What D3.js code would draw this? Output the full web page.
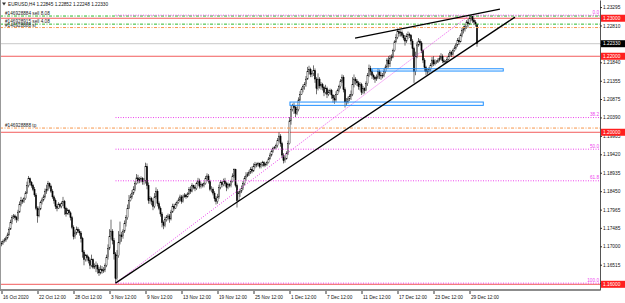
<!DOCTYPE html>
<html>
<head>
<meta charset="UTF-8">
<title>EURUSD,H4</title>
<script src="https://cdn.jsdelivr.net/npm/d3@7"></script>
<style>
  html, body { margin: 0; padding: 0; background: #fff; }
  svg { display: block; font-family: "Liberation Sans", Arial, sans-serif; }
</style>
</head>
<body>
<svg id="chart" width="625" height="303"></svg>
<script>
// --- data: H4 bars, prices stored as pips above 1.1500 ---
const base = 1.15;
const firstOpen = 205;
const closes = [
  207,212,217,
  222,230,245,262,275,280, 275,270,290,310,320,318, 325,340,360,378,368,360, 350,335,300,280,298,315, 322,330,345,350,365,358,
  345,330,320,305,300,310, 305,312,318,300,285,295, 288,275,250,225,235,245, 240,235,220,185,165,175, 170,162,150,165,145,147,
  150,140,130,140,135,138, 150,170,195,225,240,215, 180,115,175,210,230,225, 240,260,275,300,320,330, 340,350,365,380,372,375,
  378,370,372,410,360,320, 325,318,305,330,345,312, 300,285,262,255,270,275, 280,272,290,305,300,310, 315,322,330,318,330,335,
  330,338,350,345,360,355, 352,365,372,358,362,360, 365,378,385,370,350,350, 340,325,318,330,355,368, 362,372,365,355,362,360,
  370,385,402,360,320,340, 345,352,365,378,385,390, 395,402,398,410,415,415, 418,410,415,420,412,415, 420,430,440,450,458,460,
  465,478,490,470,440,425, 430,445,470,530,560,570, 565,550,560,585,600,612, 620,625,640,660,665,652, 655,662,640,615,640,622,
  625,618,605,615,600,605, 610,598,590,585,600,610, 620,635,645,612,580,580, 588,595,600,625,640,635, 630,620,625,605,615,610,
  628,650,668,660,650,645, 640,645,660,650,648,650, 660,672,690,680,695,698, 715,738,750,765,760,762, 755,748,740,752,758,755,
  740,720,660,700,730,740, 735,715,690,670,660,660, 665,675,690,680,685,685, 690,695,700,688,685,685, 692,700,710,705,715,722,
  730,742,738,755,768,772, 778,790,785,800,805,795, 790,785,733
];
const highs = [
  214,218,222,
  226,236,250,270,282,285, 284,280,296,318,330,325, 330,345,370,385,381,372, 364,356,340,305,305,320, 328,336,352,362,372,368,
  362,350,334,326,312,316, 314,318,330,322,304,300, 298,292,280,255,242,252, 250,245,240,225,190,180, 180,175,168,178,168,155,
  160,155,146,150,148,145, 155,178,205,245,270,245, 222,185,190,240,265,238, 245,268,282,310,335,338, 348,358,372,390,388,382,
  384,382,380,420,418,368, 332,330,322,340,355,350, 318,305,290,268,278,282, 286,285,296,312,312,315, 320,328,336,335,336,340,
  338,342,356,358,366,362, 360,370,380,378,368,366, 370,385,392,390,375,358, 355,345,332,338,362,374, 372,378,380,370,368,366,
  375,392,405,404,365,345, 350,360,372,385,395,395, 400,408,410,418,422,420, 422,420,422,425,424,420, 425,435,446,455,462,464,
  470,485,500,495,475,445, 436,450,478,540,572,575, 578,570,568,592,608,618, 626,632,648,672,675,670, 662,676,668,645,655,645,
  632,630,622,625,620,612, 615,614,600,598,608,615, 625,640,652,650,618,590, 594,600,610,645,652,645, 640,635,632,630,622,618,
  634,656,678,675,665,654, 648,652,668,665,658,656, 668,678,695,700,703,705, 720,742,758,773,772,768, 768,760,756,760,765,762,
  758,745,725,712,738,748, 745,740,718,695,675,668, 672,682,698,700,692,690, 695,702,708,705,692,690, 698,708,716,714,720,728,
  735,748,750,760,775,780, 785,795,798,808,808,806, 800,795,785
];
const lows = [
  200,204,210,
  212,218,228,243,258,272, 268,262,266,288,305,312, 314,322,338,355,360,354, 345,330,295,262,276,295, 310,318,326,338,346,352,
  340,325,312,298,292,298, 300,300,306,283,278,284, 282,268,245,218,220,230, 235,228,210,170,150,160, 160,155,140,145,140,140,
  132,128,122,126,128,130, 132,145,165,190,218,205, 165,103,110,170,205,212, 220,235,252,270,298,318, 325,335,345,362,365,366,
  368,362,362,365,350,312, 312,308,295,300,325,305, 295,278,250,245,250,265, 268,262,268,288,294,298, 305,312,318,312,315,328,
  325,328,335,338,342,350, 345,348,360,352,352,355, 355,362,372,365,345,342, 334,318,310,312,325,350, 355,358,358,345,350,355,
  355,368,380,355,302,318, 330,340,348,360,372,382, 385,390,392,396,405,408, 410,405,405,410,408,410, 412,418,428,436,446,455,
  455,460,475,462,432,418, 420,428,440,468,520,555, 548,540,545,555,582,598, 605,612,620,638,652,645, 645,648,630,600,610,615,
  612,610,595,600,590,595, 600,588,578,575,580,598, 605,615,630,605,565,570, 575,582,585,595,618,625, 622,612,610,598,600,602,
  608,622,645,650,640,638, 630,635,640,640,638,642, 645,655,668,670,672,688, 695,712,735,745,752,752, 750,742,728,735,745,748,
  730,700,630,650,695,725, 728,708,682,660,650,652, 655,660,672,674,676,680, 682,686,690,682,680,682, 684,690,700,698,702,712,
  718,725,730,736,750,760, 765,772,775,782,792,788, 782,778,725
];

const dateTicks = [0, 24, 48, 72, 96, 120, 144, 168, 192, 216, 240, 264, 288, 312];
const dateLabels = ["16 Oct 2020", "22 Oct 12:00", "28 Oct 12:00", "3 Nov 12:00", "9 Nov 12:00", "13 Nov 12:00",
  "19 Nov 12:00", "25 Nov 12:00", "1 Dec 12:00", "7 Dec 12:00", "11 Dec 12:00", "17 Dec 12:00", "23 Dec 12:00", "29 Dec 12:00"];

const priceTicks = [1.23295, 1.22810, 1.22325, 1.21840, 1.21355, 1.20875, 1.20390, 1.19905, 1.19420,
  1.18935, 1.18450, 1.17965, 1.17485, 1.17000, 1.16515, 1.16030];

const redLevels = [1.23000, 1.22000, 1.20000, 1.16000];
const bidPrice = 1.22330;
const title = "EURUSD,H4  1.22845 1.22852 1.22248 1.22330";

const orderLabels = ["#146928884 sell 8.08", "#146928915 sell 4.08", "#146928888 sl", "#146928888 tp"];
const orderPrices = [1.23058, 1.22845, 1.22755, 1.20111];
const orderKinds = ["open", "open", "stop", "stop"];

const fibLevels = [0, 38.2, 50, 61.8, 100];
const fibLabels = ["0.0", "38.2", "50.0", "61.8", "100.0"];
const fibFrom = [76, 1.16030];   // [bar, price] of the low
const fibTo = [312, 1.23080];    // [bar, price] of the high

const trendLines = [
  [[76, 1.16030], [342.3, 1.23030]],
  [[235.7, 1.22479], [332.3, 1.23242]]
];
const boxBars = [[247, 334.5], [192.3, 321.2]];
const boxPrices = [[1.21671, 1.21611], [1.20795, 1.20708]];

// --- scales ---
const W = 625, H = 303;
const plotRight = 600, plotBottom = 290;
const x = d3.scaleLinear().domain([0, 399]).range([1.5, plotRight]);
const y = d3.scaleLinear().domain([1.1585, 1.2348]).range([plotBottom, 0]);
const px = v => base + v / 10000;

const svg = d3.select("#chart");
const plot = svg.append("g");

const bars = closes.map((c, i) => ({
  i,
  o: px(i ? closes[i - 1] : firstOpen),
  h: px(highs[i]),
  l: px(lows[i]),
  c: px(c)
}));

// horizontal levels (behind candles)
plot.selectAll(".red").data(redLevels).join("line")
  .attr("x1", 0).attr("x2", plotRight)
  .attr("y1", d => y(d)).attr("y2", d => y(d))
  .attr("stroke", "#f25c5c").attr("stroke-width", 1);

plot.append("line")
  .attr("x1", 0).attr("x2", plotRight)
  .attr("y1", y(bidPrice)).attr("y2", y(bidPrice))
  .attr("stroke", "#c8c8c8").attr("stroke-width", 1);

// candles
plot.selectAll(".wick").data(bars).join("line")
  .attr("x1", d => x(d.i)).attr("x2", d => x(d.i))
  .attr("y1", d => y(d.h)).attr("y2", d => y(d.l))
  .attr("stroke", "#111").attr("stroke-width", 0.6);

plot.selectAll(".body").data(bars).join("rect")
  .attr("x", d => x(d.i) - 0.6).attr("width", 1.2)
  .attr("y", d => y(Math.max(d.o, d.c)))
  .attr("height", d => Math.max(0.5, Math.abs(y(d.o) - y(d.c))))
  .attr("fill", d => d.c >= d.o ? "#fff" : "#000")
  .attr("stroke", "#000").attr("stroke-width", 0.4);

// order lines
plot.selectAll(".order").data(orderPrices).join("line")
  .attr("x1", 0).attr("x2", plotRight)
  .attr("y1", d => y(d)).attr("y2", d => y(d))
  .attr("stroke", (d, k) => orderKinds[k] === "open" ? "#2eb82e" : "#f7964a")
  .attr("stroke-width", 1)
  .attr("stroke-dasharray", "3,1.5,1,1.5");

plot.selectAll(".orderText").data(orderLabels).join("text")
  .attr("x", 5).attr("y", (d, k) => y(orderPrices[k]) - 1)
  .attr("font-size", 4.7).attr("fill", "#222")
  .text(d => d);

// fibonacci
const fibPrice = lv => fibTo[1] - (fibTo[1] - fibFrom[1]) * lv / 100;
plot.append("line")
  .attr("x1", x(fibFrom[0])).attr("y1", y(fibFrom[1]))
  .attr("x2", x(fibTo[0])).attr("y2", y(fibTo[1]))
  .attr("stroke", "#ee44ee").attr("stroke-width", 1).attr("stroke-dasharray", "1,1.5");
plot.selectAll(".fib").data(fibLevels).join("line")
  .attr("x1", x(fibFrom[0])).attr("x2", plotRight)
  .attr("y1", d => y(fibPrice(d))).attr("y2", d => y(fibPrice(d)))
  .attr("stroke", "#ee44ee").attr("stroke-width", 1).attr("stroke-dasharray", "1,1.5");
plot.selectAll(".fibText").data(fibLevels).join("text")
  .attr("x", plotRight - 1).attr("y", d => y(fibPrice(d)) - 1.5)
  .attr("text-anchor", "end").attr("font-size", 4.7).attr("fill", "#ee44ee")
  .text((d, k) => fibLabels[k]);

// rectangles
plot.selectAll(".box").data(boxBars).join("rect")
  .attr("x", d => x(d[0])).attr("width", d => x(d[1]) - x(d[0]))
  .attr("y", (d, k) => y(boxPrices[k][0]))
  .attr("height", (d, k) => y(boxPrices[k][1]) - y(boxPrices[k][0]))
  .attr("fill", "none").attr("stroke", "#1f8fff").attr("stroke-width", 1);

// trend lines
plot.selectAll(".trend").data(trendLines).join("line")
  .attr("x1", d => x(d[0][0])).attr("y1", d => y(d[0][1]))
  .attr("x2", d => x(d[1][0])).attr("y2", d => y(d[1][1]))
  .attr("stroke", "#000").attr("stroke-width", 1.3);

// frame
svg.append("line").attr("x1", 0.5).attr("x2", 0.5).attr("y1", 0).attr("y2", plotBottom)
  .attr("stroke", "#999").attr("stroke-width", 1);
svg.append("line").attr("x1", 0).attr("x2", plotRight).attr("y1", plotBottom).attr("y2", plotBottom)
  .attr("stroke", "#8c8c8c").attr("stroke-width", 2);

// price axis
const yAxis = svg.append("g").attr("transform", `translate(${plotRight},0)`)
  .call(d3.axisRight(y).tickValues(priceTicks).tickFormat(d3.format(".5f")).tickSize(2).tickSizeOuter(0).tickPadding(1));
yAxis.select(".domain").attr("stroke", "#555");
yAxis.selectAll(".tick line").attr("stroke", "#333");
yAxis.selectAll("text").attr("font-size", 4.8).attr("fill", "#111").attr("font-family", null);

// price boxes
const tags = redLevels.map(p => ({ p, fill: "#ff1f1f" })).concat([{ p: bidPrice, fill: "#000" }]);
const tag = svg.selectAll(".tag").data(tags).join("g")
  .attr("transform", d => `translate(${plotRight + 1},${y(d.p)})`);
tag.append("rect").attr("x", 0).attr("y", -3.5).attr("width", W - plotRight).attr("height", 7)
  .attr("fill", d => d.fill);
tag.append("text").attr("x", 2).attr("dy", "0.35em").attr("font-size", 4.8).attr("fill", "#fff")
  .text(d => d3.format(".5f")(d.p));

// date axis
const xAxis = svg.append("g").attr("transform", `translate(0,${plotBottom + 1})`)
  .call(d3.axisBottom(x).tickValues(dateTicks).tickFormat((d, k) => dateLabels[k]).tickSize(3).tickSizeOuter(0).tickPadding(2));
xAxis.select(".domain").remove();
xAxis.selectAll(".tick line").attr("stroke", "#333");
xAxis.selectAll("text").attr("text-anchor", "start").attr("x", 1).attr("font-size", 4.7)
  .attr("fill", "#111").attr("font-family", null);

// title
svg.append("path").attr("d", "M2,2.5 L6,2.5 L4,5.5 Z").attr("fill", "#333");
svg.append("text").attr("x", 8).attr("y", 6).attr("font-size", 4.7).attr("fill", "#111").text(title);
</script>
</body>
</html>
